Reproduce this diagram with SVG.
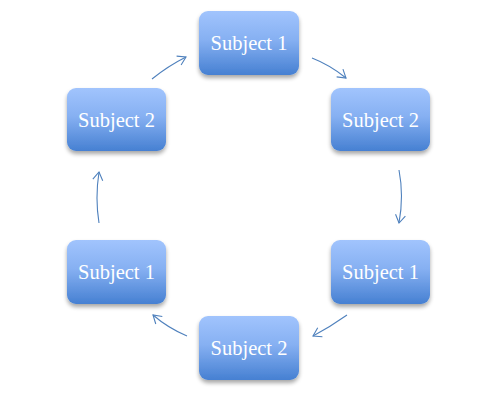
<svg xmlns="http://www.w3.org/2000/svg" width="503" height="416" viewBox="0 0 503 416">
<defs>
<linearGradient id="g" x1="0" y1="0" x2="0" y2="1">
<stop offset="0" stop-color="#A1C4FD"/>
<stop offset="0.45" stop-color="#86B0F2"/>
<stop offset="1" stop-color="#4680D2"/>
</linearGradient>
<filter id="sh" x="-20%" y="-20%" width="140%" height="150%">
<feGaussianBlur in="SourceAlpha" stdDeviation="2"/>
<feOffset dx="0" dy="3" result="b"/>
<feComponentTransfer><feFuncA type="linear" slope="0.35"/></feComponentTransfer>
<feMerge><feMergeNode/><feMergeNode in="SourceGraphic"/></feMerge>
</filter>
<marker id="ah" markerWidth="12" markerHeight="12" refX="10" refY="6" orient="auto" markerUnits="userSpaceOnUse">
<path d="M2,1 L10,6 L2,11" fill="none" stroke="#4F81BD" stroke-width="1.1"/>
</marker>
</defs>
<style>
.box{fill:url(#g);filter:url(#sh)}
.lbl{font-family:"Liberation Serif","Times New Roman",serif;font-size:20.5px;fill:#ffffff;text-anchor:middle}
.c{fill:none;stroke:#4F81BD;stroke-width:1.1;marker-end:url(#ah)}
</style>
<rect width="503" height="416" fill="#ffffff"/>
<g id="connectors">
<path class="c" d="M152,79 Q168,66 186,57"/>
<path class="c" d="M312,58 Q330,65 346,78"/>
<path class="c" d="M399,170 Q404,196 399,223"/>
<path class="c" d="M347,315 Q330,327 313,336"/>
<path class="c" d="M187,336 Q168,328 153,315"/>
<path class="c" d="M99,223 Q95,198 99,172"/>
</g>
<g id="n1"><rect class="box" x="199" y="11" width="100" height="64" rx="9"/><text class="lbl" x="249" y="50">Subject 1</text></g>
<g id="n2"><rect class="box" x="331" y="88" width="99" height="63" rx="9"/><text class="lbl" x="380.5" y="126.5">Subject 2</text></g>
<g id="n3"><rect class="box" x="331" y="240" width="99" height="64" rx="9"/><text class="lbl" x="380.5" y="279">Subject 1</text></g>
<g id="n4"><rect class="box" x="199" y="316" width="100" height="64" rx="9"/><text class="lbl" x="249" y="355">Subject 2</text></g>
<g id="n5"><rect class="box" x="67" y="240" width="99" height="64" rx="9"/><text class="lbl" x="116.5" y="279">Subject 1</text></g>
<g id="n6"><rect class="box" x="67" y="88" width="99" height="63" rx="9"/><text class="lbl" x="116.5" y="126.5">Subject 2</text></g>
</svg>
